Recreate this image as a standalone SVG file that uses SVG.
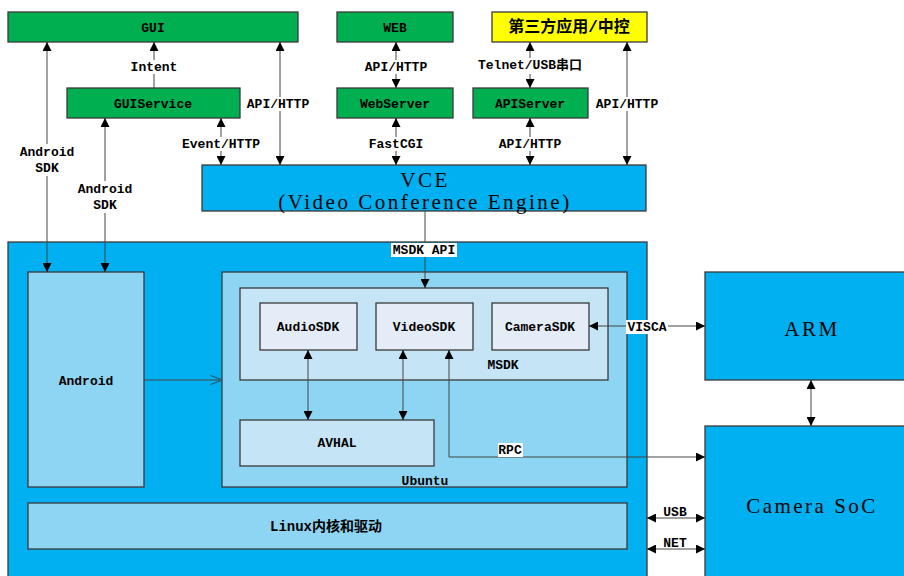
<svg xmlns="http://www.w3.org/2000/svg" width="904" height="576" viewBox="0 0 904 576">
<defs>
<marker id="ah" viewBox="0 0 10 10" refX="10" refY="5" markerWidth="9" markerHeight="9" markerUnits="userSpaceOnUse" orient="auto-start-reverse"><path d="M0,0 L10,5 L0,10 Z" fill="#000"/></marker>
<marker id="oh" viewBox="0 0 10 10" refX="10" refY="5" markerWidth="12" markerHeight="12" markerUnits="userSpaceOnUse" orient="auto"><path d="M0,1 L10,5 L0,9" fill="none" stroke="#2a5d7a" stroke-width="1"/></marker>
<style>
.box{stroke:#3a3a3a;stroke-width:1.3}
.g{fill:#00B050}
.y{fill:#FFFF00}
.b{fill:#00B0F0}
.lb{fill:#8DD5F3}
.mb{fill:#C5E4F6}
.wb{fill:#E4ECF7}
.t{font-family:"Liberation Mono",monospace;font-weight:bold;font-size:13px;fill:#000;text-anchor:middle;dominant-baseline:central}
.big{font-family:"Liberation Serif",serif;font-size:21px;letter-spacing:2.5px;fill:#000;text-anchor:middle;dominant-baseline:central}
.cjk{font-family:"Liberation Mono","Noto Sans CJK SC",sans-serif;font-weight:bold;text-anchor:middle;dominant-baseline:central;fill:#000}
.ln{stroke:#444;stroke-width:1;fill:none}
.bg{fill:#fff}
</style>
</defs>

<g id="outer"><rect class="box b" x="8" y="242" width="639" height="340"/></g>
<g id="gui"><rect class="box g" x="8" y="12" width="290" height="30"/><text class="t" x="153" y="28">GUI</text></g>
<g id="web"><rect class="box g" x="337" y="12" width="116" height="30"/><text class="t" x="395" y="28">WEB</text></g>
<g id="third"><rect class="box y" x="492" y="12" width="155" height="30"/><text class="cjk" x="569" y="28" font-size="16">第三方应用/中控</text></g>
<g id="guiservice"><rect class="box g" x="67" y="88" width="173" height="30"/><text class="t" x="153" y="104">GUIService</text></g>
<g id="webserver"><rect class="box g" x="337" y="88" width="116" height="30"/><text class="t" x="395" y="104">WebServer</text></g>
<g id="apiserver"><rect class="box g" x="473" y="88" width="115" height="30"/><text class="t" x="530" y="104">APIServer</text></g>
<g id="vce"><rect class="box b" x="202" y="165" width="444" height="46"/><text class="big" x="425" y="180">VCE</text><text class="big" x="425" y="202">(Video Conference Engine)</text></g>
<g id="android"><rect class="box lb" x="28" y="272" width="116" height="215"/><text class="t" x="86" y="381">Android</text></g>
<g id="ubuntu"><rect class="box lb" x="222" y="272" width="405" height="215"/><text class="t" x="425" y="481">Ubuntu</text></g>
<g id="msdk"><rect class="box mb" x="240" y="288" width="368" height="92"/><text class="t" x="503" y="365">MSDK</text></g>
<g id="audiosdk"><rect class="box wb" x="260" y="303" width="97" height="47"/><text class="t" x="308" y="327">AudioSDK</text></g>
<g id="videosdk"><rect class="box wb" x="376" y="303" width="97" height="47"/><text class="t" x="424" y="327">VideoSDK</text></g>
<g id="camerasdk"><rect class="box wb" x="492" y="303" width="97" height="47"/><text class="t" x="540" y="327">CameraSDK</text></g>
<g id="avhal"><rect class="box mb" x="240" y="420" width="194" height="46"/><text class="t" x="337" y="443">AVHAL</text></g>
<g id="linux"><rect class="box lb" x="28" y="503" width="599" height="46"/><text class="cjk" x="326" y="527" font-size="14">Linux内核和驱动</text></g>
<g id="arm"><rect class="box b" x="705" y="272" width="205" height="108"/><text class="big" x="812" y="329">ARM</text></g>
<g id="camerasoc"><rect class="box b" x="705" y="426" width="205" height="160"/><text class="big" x="812" y="506">Camera SoC</text></g>

<g id="connectors">
<line class="ln" x1="47" y1="42" x2="47" y2="272" marker-start="url(#ah)" marker-end="url(#ah)"/>
<line class="ln" x1="105" y1="118" x2="105" y2="272" stroke="#888" marker-start="url(#ah)" marker-end="url(#ah)"/>
<line class="ln" x1="154" y1="88" x2="154" y2="42" stroke="#888" marker-end="url(#ah)"/>
<line class="ln" x1="280" y1="42" x2="280" y2="165" marker-start="url(#ah)" marker-end="url(#ah)"/>
<line class="ln" x1="221" y1="118" x2="221" y2="165" stroke="#888" marker-start="url(#ah)" marker-end="url(#ah)"/>
<line class="ln" x1="396" y1="42" x2="396" y2="88" stroke="#888" marker-start="url(#ah)" marker-end="url(#ah)"/>
<line class="ln" x1="396" y1="118" x2="396" y2="165" stroke="#888" marker-start="url(#ah)" marker-end="url(#ah)"/>
<line class="ln" x1="530" y1="42" x2="530" y2="88" stroke="#888" marker-start="url(#ah)" marker-end="url(#ah)"/>
<line class="ln" x1="530" y1="118" x2="530" y2="165" stroke="#888" marker-start="url(#ah)" marker-end="url(#ah)"/>
<line class="ln" x1="627" y1="42" x2="627" y2="165" marker-start="url(#ah)" marker-end="url(#ah)"/>
<line class="ln" x1="425" y1="211" x2="425" y2="288" stroke="#222" marker-end="url(#ah)"/>
<line class="ln" x1="144" y1="380" x2="222" y2="380" stroke="#2a5d7a" marker-end="url(#oh)"/>
<line class="ln" x1="308" y1="350" x2="308" y2="420" stroke="#222" marker-start="url(#ah)" marker-end="url(#ah)"/>
<line class="ln" x1="403" y1="350" x2="403" y2="420" stroke="#222" marker-start="url(#ah)" marker-end="url(#ah)"/>
<polyline class="ln" points="449,350 449,457 705,457" stroke="#333" marker-start="url(#ah)" marker-end="url(#ah)"/>
<line class="ln" x1="589" y1="326" x2="705" y2="326" stroke="#333" marker-start="url(#ah)" marker-end="url(#ah)"/>
<line class="ln" x1="811" y1="380" x2="811" y2="426" marker-start="url(#ah)" marker-end="url(#ah)"/>
<line class="ln" x1="647" y1="518" x2="705" y2="518" marker-start="url(#ah)" marker-end="url(#ah)"/>
<line class="ln" x1="647" y1="549" x2="705" y2="549" marker-start="url(#ah)" marker-end="url(#ah)"/>

<rect class="bg" x="18" y="144" width="58" height="32"/>
<text class="t" x="47" y="152">Android</text><text class="t" x="47" y="168">SDK</text>
<rect class="bg" x="76" y="181" width="58" height="32"/>
<text class="t" x="105" y="189">Android</text><text class="t" x="105" y="205">SDK</text>
<rect class="bg" x="128" y="60" width="52" height="14"/>
<text class="t" x="154" y="67">Intent</text>
<rect class="bg" x="245" y="97" width="66" height="14"/>
<text class="t" x="278" y="104">API/HTTP</text>
<rect class="bg" x="179" y="137" width="84" height="14"/>
<text class="t" x="221" y="144">Event/HTTP</text>
<rect class="bg" x="362" y="60" width="68" height="14"/>
<text class="t" x="396" y="67">API/HTTP</text>
<rect class="bg" x="366" y="137" width="60" height="14"/>
<text class="t" x="396" y="144">FastCGI</text>
<rect class="bg" x="472" y="58" width="116" height="16"/>
<text class="cjk" x="530" y="65" font-size="13">Telnet/USB串口</text>
<rect class="bg" x="497" y="137" width="66" height="14"/>
<text class="t" x="530" y="144">API/HTTP</text>
<rect class="bg" x="594" y="97" width="66" height="14"/>
<text class="t" x="627" y="104">API/HTTP</text>
<rect class="bg" x="391" y="243" width="66" height="14"/>
<text class="t" x="424" y="250">MSDK API</text>
<rect class="bg" x="626" y="320" width="42" height="14"/>
<text class="t" x="647" y="327">VISCA</text>
<rect class="bg" x="498" y="443" width="25" height="14"/>
<text class="t" x="510" y="450">RPC</text>
<text class="t" x="675" y="512">USB</text>
<text class="t" x="675" y="543">NET</text>
</g>
</svg>
